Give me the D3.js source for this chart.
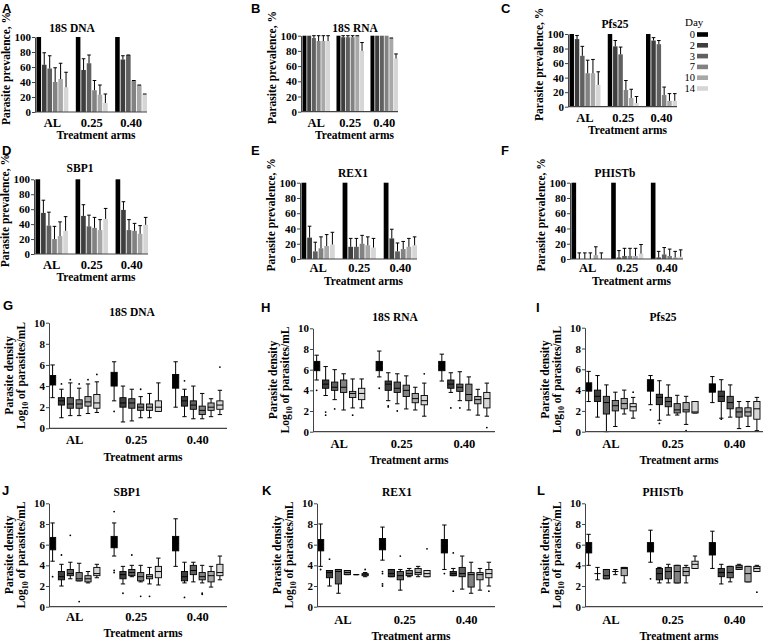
<!DOCTYPE html>
<html><head><meta charset="utf-8">
<script src="https://cdn.jsdelivr.net/npm/d3@7"></script>
<style>
body{margin:0;background:#fff}
svg{display:block}
text{font-family:"Liberation Serif","Times New Roman",serif;font-weight:bold;fill:#000}
.letter{font-family:"Liberation Sans",Arial,sans-serif;font-weight:bold}
</style>
</head><body>
<svg id="c" width="763" height="642"></svg>
<script>
// ---------- DATA ----------
const groups = ["AL", "0.25", "0.40"];
const days = ["0", "2", "3", "7", "10", "14"];
const prevTicks = [0, 20, 40, 60, 80, 100];
const densTicks = [0, 2, 4, 6, 8, 10];

// prevalence (%) [group][day] and upper error-bar end (%)
const prev18SDNA = [[100, 63, 58, 40, 44, 33], [100, 56, 65, 29, 23, 12], [100, 70, 76, 42, 36, 24]];
const err18SDNA  = [[null, 79, 75, 59, 65, 53], [null, 71, 76, 42, 36, 24], [null, 75, 76, 42, 36, 24]];
const prev18SRNA = [[100, 100, 97, 93, 93, 93], [100, 98, 98, 98, 100, 80], [100, 100, 100, 100, 97, 70]];
const err18SRNA  = [[null, null, 100, 100, 100, 100], [null, 100, 100, 100, 100, 91], [null, null, null, null, 97, 76]];
const prevPfs25  = [[100, 93, 70, 46, 46, 30], [100, 83, 72, 23, 12, 5], [100, 91, 86, 16, 8, 8]];
const errPfs25   = [[null, 98, 83, 64, 65, 48], [null, 91, 82, 36, 24, 14], [null, 95, 91, 27, 18, 18]];
const prevSBP1   = [[100, 55, 38, 20, 24, 31], [100, 51, 37, 35, 32, 47], [100, 59, 32, 31, 27, 39]];
const errSBP1    = [[null, 72, 56, 37, 43, 50], [null, 66, 52, 49, 46, 61], [null, 70, 46, 41, 38, 49]];
const prevREX1   = [[100, 28, 10, 14, 17, 19], [100, 16, 16, 20, 18, 15], [100, 27, 10, 13, 16, 18]];
const errREX1    = [[null, 43, 22, 29, 32, 35], [null, 27, 27, 31, 29, 27], [null, 39, 21, 23, 27, 29]];
const prevPHISTb = [[100, 0, 0, 0, 5, 0], [100, 2, 4, 4, 4, 7], [100, 2, 6, 4, 2, 3]];
const errPHISTb  = [[null, 8, 8, 8, 16, 8], [null, 11, 14, 14, 14, 19], [null, 10, 15, 13, 10, 12]];

// density (log10 parasites/mL): [group][day] = [whiskerLow, q1, median, q3, whiskerHigh]
const dens18SDNA = [
  [[2.9, 4.1, 4.5, 5.0, 6.0], [1.0, 2.2, 2.6, 2.9, 3.7], [1.2, 1.9, 2.3, 2.9, 4.3], [1.2, 1.9, 2.3, 2.7, 3.8], [1.4, 2.1, 2.5, 3.0, 4.2], [1.5, 1.9, 2.4, 3.2, 4.4]],
  [[2.6, 4.0, 4.6, 5.3, 6.3], [0.6, 2.0, 2.4, 2.9, 4.0], [0.7, 1.9, 2.4, 2.8, 3.7], [1.0, 1.7, 2.0, 2.3, 3.0], [1.0, 1.7, 2.0, 2.3, 3.3], [1.6, 1.6, 2.0, 2.6, 4.3]],
  [[2.0, 3.8, 4.4, 5.1, 6.3], [1.1, 2.1, 2.6, 3.0, 3.7], [0.9, 1.8, 2.2, 2.6, 4.0], [0.9, 1.3, 1.7, 2.1, 3.3], [1.1, 1.7, 2.0, 2.4, 2.8], [1.3, 1.8, 2.2, 2.6, 3.6]]];
const out18SDNA = [[0, 1, 4.2], [0, 2, 4.6], [0, 3, 4.2], [0, 4, 4.6], [0, 5, 5.1], [1, 0, 1.6], [1, 3, 3.7], [2, 1, 4.5], [2, 5, 5.8]];

const dens18SRNA = [
  [[5.0, 5.9, 6.3, 6.8, 7.4], [3.5, 4.2, 4.6, 5.0, 6.3], [3.1, 4.0, 4.3, 4.8, 6.0], [2.1, 3.8, 4.3, 5.0, 5.6], [2.3, 3.3, 3.7, 3.9, 5.1], [2.3, 3.1, 3.7, 4.2, 5.1]],
  [[5.3, 5.9, 6.2, 6.8, 7.8], [3.0, 4.0, 4.6, 4.9, 5.7], [2.7, 3.8, 4.2, 4.8, 5.6], [2.2, 3.4, 4.0, 4.5, 5.4], [2.1, 2.8, 3.2, 3.7, 4.3], [1.5, 2.6, 3.0, 3.5, 4.7]],
  [[4.9, 5.9, 6.3, 6.8, 7.5], [3.8, 4.2, 4.6, 5.0, 5.7], [3.0, 3.9, 4.3, 4.6, 5.8], [2.1, 3.0, 3.6, 4.6, 5.3], [1.6, 2.7, 3.1, 3.4, 4.1], [1.5, 2.3, 3.2, 3.8, 4.7]]];
const out18SRNA = [[0, 0, 4.0], [0, 1, 1.9], [0, 1, 1.6], [0, 2, 2.2], [0, 4, 1.6], [1, 0, 4.2], [1, 1, 2.5], [1, 1, 2.4], [1, 2, 2.0], [1, 5, 5.6], [2, 1, 2.3], [2, 2, 2.3], [2, 5, 0.4]];

const densPfs25 = [
  [[2.9, 3.9, 4.3, 4.7, 5.8], [1.4, 2.9, 3.4, 4.0, 5.4], [0.0, 1.7, 2.8, 3.4, 4.5], [0.5, 2.0, 2.5, 3.0, 3.8], [1.7, 2.2, 2.7, 3.2, 4.0], [1.3, 2.0, 2.4, 2.7, 3.3]],
  [[2.6, 3.9, 4.4, 5.0, 5.4], [1.1, 2.6, 3.3, 3.6, 4.9], [1.6, 2.4, 2.9, 3.3, 4.5], [1.6, 1.8, 2.1, 2.7, 3.5], [0.7, 1.9, 2.1, 2.8, 3.4], [1.8, 1.8, 1.9, 2.9, 2.9]],
  [[2.8, 3.8, 4.2, 4.6, 5.3], [1.3, 2.9, 3.4, 3.9, 5.0], [1.4, 2.2, 2.8, 3.4, 4.5], [0.3, 1.4, 1.9, 2.3, 2.9], [0.5, 1.5, 1.9, 2.3, 2.9], [0.1, 1.2, 2.2, 2.9, 3.3]]];
const outPfs25 = [[0, 5, 3.8], [1, 0, 2.1], [1, 1, 0.8], [1, 4, 0.1], [2, 1, 1.2]];

const densSBP1 = [
  [[4.4, 5.5, 6.2, 6.7, 8.1], [2.0, 2.6, 2.9, 3.4, 4.1], [2.7, 3.0, 3.2, 3.6, 4.3], [2.5, 2.5, 2.7, 3.3, 4.2], [2.3, 2.4, 2.7, 3.0, 3.4], [2.8, 3.0, 3.2, 3.8, 4.1]],
  [[4.9, 5.7, 6.3, 6.8, 8.1], [2.2, 2.7, 3.1, 3.4, 3.9], [2.9, 3.0, 3.3, 3.6, 4.0], [2.4, 2.5, 2.9, 3.3, 4.0], [2.2, 2.7, 2.9, 3.1, 3.8], [2.1, 2.8, 3.4, 3.9, 4.7]],
  [[3.9, 5.4, 6.1, 6.8, 8.5], [2.3, 2.5, 2.9, 3.4, 4.3], [2.4, 3.1, 3.5, 4.0, 4.3], [2.3, 2.6, 2.9, 3.3, 4.0], [1.9, 2.4, 3.0, 3.4, 3.9], [2.6, 3.0, 3.3, 4.1, 4.9]]];
const outSBP1 = [[0, 0, 2.9], [0, 1, 5.0], [0, 2, 6.9], [0, 3, 0.5], [1, 0, 9.2], [1, 0, 3.5], [1, 0, 3.3], [1, 1, 1.3], [1, 2, 5.0], [1, 3, 1.0], [1, 4, 1.0], [2, 1, 0.9], [2, 3, 1.3], [2, 3, 1.2]];

const densREX1 = [
  [[3.9, 5.4, 6.0, 6.5, 8.0], [2.0, 2.8, 3.3, 3.5, 3.5], [1.3, 2.2, 3.4, 3.6, 3.6], [3.1, 3.1, 3.3, 3.5, 3.5], [3.1, 3.1, 3.1, 3.1, 3.1], [2.9, 3.0, 3.1, 3.2, 3.3]],
  [[4.5, 5.5, 6.0, 6.6, 7.7], [2.9, 2.9, 3.2, 3.6, 3.6], [1.6, 2.6, 3.0, 3.4, 3.6], [2.9, 3.0, 3.2, 3.5, 3.7], [2.9, 3.1, 3.3, 3.7, 3.9], [2.9, 2.9, 3.2, 3.5, 3.5]],
  [[3.6, 5.2, 5.9, 6.5, 7.9], [3.0, 3.0, 3.2, 3.4, 3.7], [1.7, 2.9, 3.2, 3.8, 4.9], [1.3, 1.9, 3.1, 3.3, 4.3], [1.6, 2.6, 3.1, 3.3, 3.7], [2.0, 2.8, 3.2, 3.6, 4.3]]];
const outREX1 = [[0, 0, 3.6], [0, 1, 4.6], [0, 5, 3.6], [1, 0, 3.4], [1, 0, 3.2], [1, 0, 2.2], [1, 0, 2.0], [1, 2, 4.9], [1, 5, 5.6], [2, 0, 3.2], [2, 1, 5.2], [2, 1, 1.5], [2, 5, 1.5]];

const densPHISTb = [
  [[4.0, 5.2, 5.7, 6.2, 7.0], [2.6, 3.2, 3.2, 3.2, 3.8], [2.7, 2.7, 3.0, 3.6, 3.6], [3.1, 3.4, 3.4, 3.4, 3.6], [2.3, 3.0, 3.7, 3.8, 3.8], null],
  [[4.3, 5.3, 5.8, 6.2, 7.4], [2.3, 2.6, 3.2, 3.7, 3.8], [2.3, 2.7, 3.4, 3.8, 4.1], [2.3, 2.3, 3.4, 4.0, 4.0], [2.3, 3.0, 3.4, 3.8, 4.0], [3.7, 3.7, 4.1, 4.4, 4.9]],
  [[3.7, 5.0, 5.6, 6.2, 7.3], [2.2, 2.9, 3.3, 3.7, 4.1], [2.4, 2.8, 3.3, 3.9, 3.9], [3.6, 3.6, 3.8, 4.0, 4.1], [2.4, 2.4, 3.2, 3.9, 3.9], [3.4, 3.4, 3.7, 3.9, 4.0]]];
const outPHISTb = [[1, 0, 2.7], [2, 5, 1.4]];

// ---------- STYLE / LAYOUT ----------
const dayColors = ["#000000", "#3e3e3e", "#606060", "#828282", "#a8a8a8", "#d6d6d6"];
const color = d3.scaleOrdinal(days, dayColors);
const svg = d3.select("#c");

const barPanels = [
  {letter: "A", title: "18S DNA", v: prev18SDNA, e: err18SDNA, left: 35, right: 147, top: 37, bottom: 112, tx: 72, ty: 32, cy: 127, xty: 139, lx: 2, ly: 13},
  {letter: "B", title: "18S RNA", v: prev18SRNA, e: err18SRNA, left: 301, right: 398, top: 35.7, bottom: 111.7, tx: 355, ty: 32, cy: 127, xty: 139, lx: 251, ly: 13},
  {letter: "C", title: "Pfs25", v: prevPfs25, e: errPfs25, left: 568, right: 677, top: 34, bottom: 106.7, tx: 615, ty: 28, cy: 122, xty: 134, lx: 501, ly: 13},
  {letter: "D", title: "SBP1", v: prevSBP1, e: errSBP1, left: 34, right: 148, top: 179.3, bottom: 254, tx: 80, ty: 172, cy: 269, xty: 281, lx: 2, ly: 155},
  {letter: "E", title: "REX1", v: prevREX1, e: errREX1, left: 300, right: 417, top: 182.7, bottom: 259, tx: 353, ty: 177, cy: 272, xty: 285, lx: 251, ly: 155},
  {letter: "F", title: "PHISTb", v: prevPHISTb, e: errPHISTb, left: 570, right: 683, top: 182.7, bottom: 259, tx: 615, ty: 177, cy: 272, xty: 285, lx: 501, ly: 155}
];
const boxPanels = [
  {letter: "G", title: "18S DNA", d: dens18SDNA, o: out18SDNA, left: 49, right: 227, bright: 223, top: 322.7, bottom: 428.3, tx: 132, ty: 316, cy: 444, xty: 461, lx: 3, ly: 310},
  {letter: "H", title: "18S RNA", d: dens18SRNA, o: out18SRNA, left: 313, right: 495, bright: 490, top: 328.3, bottom: 431.7, tx: 395, ty: 321, cy: 448, xty: 464, lx: 261, ly: 312},
  {letter: "I", title: "Pfs25", d: densPfs25, o: outPfs25, left: 585, right: 763, bright: 760, top: 327.7, bottom: 431.7, tx: 663, ty: 321, cy: 448, xty: 464, lx: 536, ly: 312},
  {letter: "J", title: "SBP1", d: densSBP1, o: outSBP1, left: 49, right: 227, bright: 223, top: 503.3, bottom: 606.7, tx: 127, ty: 496, cy: 621, xty: 637, lx: 2, ly: 495},
  {letter: "K", title: "REX1", d: densREX1, o: outREX1, left: 317, right: 495, bright: 492, top: 503.3, bottom: 606.7, tx: 397, ty: 496, cy: 624, xty: 640, lx: 262, ly: 495},
  {letter: "L", title: "PHISTb", d: densPHISTb, o: outPHISTb, left: 585, right: 763, bright: 760, top: 503.3, bottom: 606.7, tx: 663, ty: 496, cy: 624, xty: 640, lx: 537, ly: 495}
];

function common(g, p, y, ticks, x0) {
  const ax = g.append("g").attr("transform", `translate(${p.left},0)`)
    .call(d3.axisLeft(y).tickValues(ticks).tickSize(3).tickSizeOuter(0).tickPadding(1));
  ax.selectAll("text").style("font-size", "11px").style("font-family", "Liberation Serif, serif").style("font-weight", "bold");
  ax.select(".domain").attr("stroke", "#444");
  ax.selectAll(".tick line").attr("stroke", "#444");
  g.append("line").attr("x1", p.left).attr("x2", p.right).attr("y1", p.bottom).attr("y2", p.bottom)
    .attr("stroke", "#444").attr("stroke-width", 1.2);
  g.selectAll(".cat").data(groups).join("text")
    .attr("x", d => x0(d) + x0.bandwidth() / 2).attr("y", p.cy)
    .attr("text-anchor", "middle").style("font-size", "12.5px").text(d => d);
  g.append("text").attr("x", (p.left + p.right) / 2 + 5).attr("y", p.xty)
    .attr("text-anchor", "middle").style("font-size", "11.5px").text("Treatment arms");
  g.append("text").attr("x", p.tx).attr("y", p.ty).attr("text-anchor", "middle")
    .style("font-size", "11.5px").text(p.title);
  g.append("text").attr("class", "letter").attr("x", p.lx).attr("y", p.ly)
    .style("font-size", "13px").text(p.letter);
}

barPanels.forEach(p => {
  const g = svg.append("g");
  const y = d3.scaleLinear([0, 100], [p.bottom, p.top]);
  const x0 = d3.scaleBand(groups, [p.left + 1.5, p.right]).paddingInner(0.19).paddingOuter(0);
  const x1 = d3.scaleBand(days, [0, x0.bandwidth()]).paddingInner(0.16);
  groups.forEach((gr, gi) => {
    days.forEach((dy, di) => {
      const v = p.v[gi][di];
      const bx = x0(gr) + x1(dy);
      g.append("rect").attr("x", bx).attr("width", x1.bandwidth())
        .attr("y", y(v)).attr("height", y(0) - y(v)).attr("fill", color(dy));
      const e = p.e[gi][di];
      if (e != null) {
        const cx = bx + x1.bandwidth() / 2;
        g.append("line").attr("x1", cx).attr("x2", cx).attr("y1", y(v)).attr("y2", y(e))
          .attr("stroke", "#000").attr("stroke-width", 1);
        g.append("line").attr("x1", cx - 1.8).attr("x2", cx + 1.8).attr("y1", y(e)).attr("y2", y(e))
          .attr("stroke", "#000").attr("stroke-width", 1);
      }
    });
  });
  common(g, p, y, prevTicks, x0);
  g.append("text").attr("transform", `translate(${p.left - 25},${(p.top + p.bottom) / 2 - 6}) rotate(-90)`)
    .attr("text-anchor", "middle").style("font-size", "11.5px").text("Parasite prevalence, %");
});

boxPanels.forEach(p => {
  const g = svg.append("g");
  const y = d3.scaleLinear([0, 10], [p.bottom, p.top]);
  const x0 = d3.scaleBand(groups, [p.left + 0.5, p.bright]).paddingInner(0.18).paddingOuter(0);
  const x1 = d3.scaleBand(days, [0, x0.bandwidth()]).paddingInner(0.3);
  const bw = x1.bandwidth();
  groups.forEach((gr, gi) => {
    days.forEach((dy, di) => {
      const b = p.d[gi][di];
      if (!b) return;
      const bx = x0(gr) + x1(dy), cx = bx + bw / 2;
      const [lo, q1, md, q3, hi] = b;
      g.append("line").attr("x1", cx).attr("x2", cx).attr("y1", y(lo)).attr("y2", y(hi)).attr("stroke", "#000");
      [lo, hi].forEach(w => g.append("line").attr("x1", cx - bw * 0.35).attr("x2", cx + bw * 0.35)
        .attr("y1", y(w)).attr("y2", y(w)).attr("stroke", "#000"));
      if (q3 > q1) {
        g.append("rect").attr("x", bx).attr("width", bw).attr("y", y(q3)).attr("height", y(q1) - y(q3))
          .attr("fill", color(dy)).attr("stroke", "#000").attr("stroke-width", 0.9);
      }
      g.append("line").attr("x1", bx).attr("x2", bx + bw).attr("y1", y(md)).attr("y2", y(md))
        .attr("stroke", "#000").attr("stroke-width", 1);
    });
  });
  p.o.forEach(([gi, di, v]) => {
    g.append("circle").attr("cx", x0(groups[gi]) + x1(days[di]) + bw / 2).attr("cy", y(v))
      .attr("r", 0.9).attr("fill", "#000");
  });
  common(g, p, y, densTicks, x0);
  g.append("text").attr("transform", `translate(${p.left - 36},${(p.top + p.bottom) / 2}) rotate(-90)`)
    .attr("text-anchor", "middle").style("font-size", "11.5px").text("Parasite density");
  const lab2 = g.append("text").attr("transform", `translate(${p.left - 24},${(p.top + p.bottom) / 2}) rotate(-90)`)
    .attr("text-anchor", "middle").style("font-size", "11.5px");
  lab2.append("tspan").text("Log");
  lab2.append("tspan").attr("dy", 3).style("font-size", "8px").text("10");
  lab2.append("tspan").attr("dy", -3).text(" of parasites/mL");
});

// legend (in panel C)
const lg = svg.append("g");
lg.append("text").attr("x", 685).attr("y", 25.5).style("font-weight", "normal").style("font-size", "11px").text("Day");
days.forEach((d, i) => {
  const yy = 34.5 + i * 10.8;
  lg.append("text").attr("x", 695).attr("y", yy + 3.5).attr("text-anchor", "end")
    .style("font-weight", "normal").style("font-size", "10.5px").text(d);
  lg.append("rect").attr("x", 697).attr("y", yy - 2.3).attr("width", 11).attr("height", 4.6).attr("fill", color(d));
});
</script>
</body></html>
